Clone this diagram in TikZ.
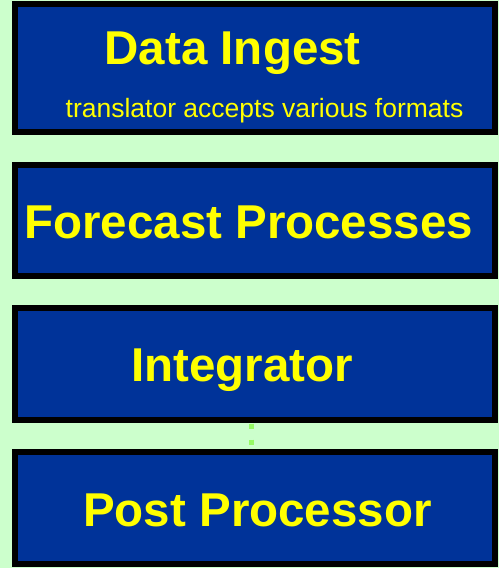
\documentclass[tikz,border=0pt]{standalone}
\usepackage{fontspec}
\setmainfont{Liberation Sans}
\definecolor{bgcol}{RGB}{204,255,204}
\definecolor{boxblue}{RGB}{0,51,153}
\definecolor{txtyellow}{RGB}{255,255,0}
\definecolor{dotgreen}{RGB}{150,250,100}
\begin{document}
\begin{tikzpicture}[x=1pt,y=-1pt,
  stagebox/.style={draw=black, line width=6pt, fill=boxblue, inner sep=0pt,
    minimum width=480pt, minimum height=#1, anchor=north west},
  titletext/.style={text=txtyellow, font=\fontsize{47.5}{50}\selectfont\bfseries, inner sep=0pt, anchor=base},
  subtext/.style={text=txtyellow, font=\fontsize{26.5}{28}\selectfont, inner sep=0pt, anchor=base},
  dotline/.style={draw=dotgreen, line width=5pt, line cap=butt, dash pattern=on 5pt off 11pt, dash phase=15.5pt}]
\useasboundingbox (0,0) rectangle (499,568);
\fill[bgcol] (0,0) rectangle (499,568);
% boxes (north west = outer corner)
\node[stagebox=128pt] (b1) at (12,1) {};
\node[stagebox=111.3pt] (b2) at (12,161.7) {};
\node[stagebox=112pt] (b3) at (12,305) {};
\node[stagebox=112pt] (b4) at (12,449) {};
% texts
\node[titletext] (t1) at (232.7,64) {Data Ingest};
\node[subtext] (s1) at (264.5,117) {translator accepts various formats};
\node[titletext] (t2) at (248.7,238) {Forecast Processes};
\node[titletext] (t3) at (242,381) {Integrator};
\node[titletext] (t4) at (257.5,526) {Post Processor};
% dotted connector
\coordinate (dx) at (251.7,0);
\draw[dotline] (b3.south -| dx) -- (b4.north -| dx);
\end{tikzpicture}
\end{document}
